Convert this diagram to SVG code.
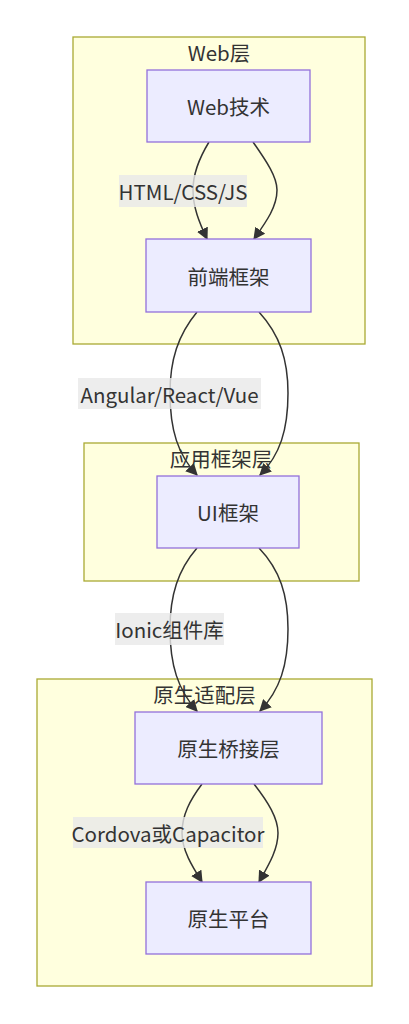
<svg xmlns="http://www.w3.org/2000/svg" width="409" height="1024" viewBox="0 0 409 1024">
<style>
  .cluster rect { fill: #ffffde; stroke: #aaaa33; stroke-width: 1.3; }
  .node rect { fill: #ececff; stroke: #9370db; stroke-width: 1.3; }
  text { font-family: "Noto Sans CJK SC", "DejaVu Sans", sans-serif; font-size: 20.5px; fill: #333333; text-anchor: middle; dominant-baseline: central; }
  .edge { fill: none; stroke: #333333; stroke-width: 1.5; marker-end: url(#arrow); }
  .lbl rect { fill: #e8e8e8; opacity: 0.8; }
</style>
<defs>
  <marker id="arrow" viewBox="0 0 10 10" refX="9" refY="5" markerUnits="userSpaceOnUse" markerWidth="12" markerHeight="12" orient="auto">
    <path d="M0,0 L10,5 L0,10 z" fill="#333333"/>
  </marker>
</defs>
<rect width="409" height="1024" fill="#ffffff"/>
<g id="cluster-web" class="cluster">
  <rect x="73" y="37" width="292" height="307"/>
  <text x="219" y="52">Web层</text>
</g>
<g id="cluster-app" class="cluster">
  <rect x="84" y="443" width="275" height="138"/>
  <text x="221" y="458">应用框架层</text>
</g>
<g id="cluster-native" class="cluster">
  <rect x="37" y="679" width="335" height="307"/>
  <text x="204.5" y="694">原生适配层</text>
</g>
<g id="connectors">
  <path class="edge" d="M209,142 C198,160 193,175 193,190 C193,207 199,222 207,239"/>
  <path class="edge" d="M253,142 C267,162 277,177 277,190 C277,207 266,222 254,239"/>
  <path class="edge" d="M197,312 C178,335 170,360 170,393 C170,430 178,455 197,475"/>
  <path class="edge" d="M259,312 C280,335 288,360 288,393 C288,430 280,455 260,475"/>
  <path class="edge" d="M197,548 C178,570 170,595 170,629 C170,665 178,690 197,711"/>
  <path class="edge" d="M259,548 C280,570 288,595 288,629 C288,665 280,690 260,711"/>
  <path class="edge" d="M202,784 C190,800 182,815 182,833 C182,850 192,866 202,882"/>
  <path class="edge" d="M254,784 C268,802 278,818 278,833 C278,850 268,866 259,882"/>
  <g class="lbl">
    <rect x="119" y="175" width="128" height="32"/>
    <text x="183" y="191">HTML/CSS/JS</text>
  </g>
  <g class="lbl">
    <rect x="78" y="378" width="183" height="31"/>
    <text x="169.5" y="393.5">Angular/React/Vue</text>
  </g>
  <g class="lbl">
    <rect x="115" y="613" width="109" height="32"/>
    <text x="169.5" y="629">Ionic组件库</text>
  </g>
  <g class="lbl">
    <rect x="73" y="817" width="190" height="31"/>
    <text x="168" y="832.5">Cordova或Capacitor</text>
  </g>
</g>
<g id="node-web" class="node">
  <rect x="147" y="70" width="163" height="72"/>
  <text x="228.5" y="106">Web技术</text>
</g>
<g id="node-frontend" class="node">
  <rect x="146" y="239" width="165" height="73"/>
  <text x="228.5" y="275.5">前端框架</text>
</g>
<g id="node-ui" class="node">
  <rect x="157" y="476" width="142" height="72"/>
  <text x="228" y="512">UI框架</text>
</g>
<g id="node-bridge" class="node">
  <rect x="135" y="712" width="187" height="72"/>
  <text x="228.5" y="748">原生桥接层</text>
</g>
<g id="node-platform" class="node">
  <rect x="146" y="882" width="165" height="72"/>
  <text x="228.5" y="918">原生平台</text>
</g>
</svg>
